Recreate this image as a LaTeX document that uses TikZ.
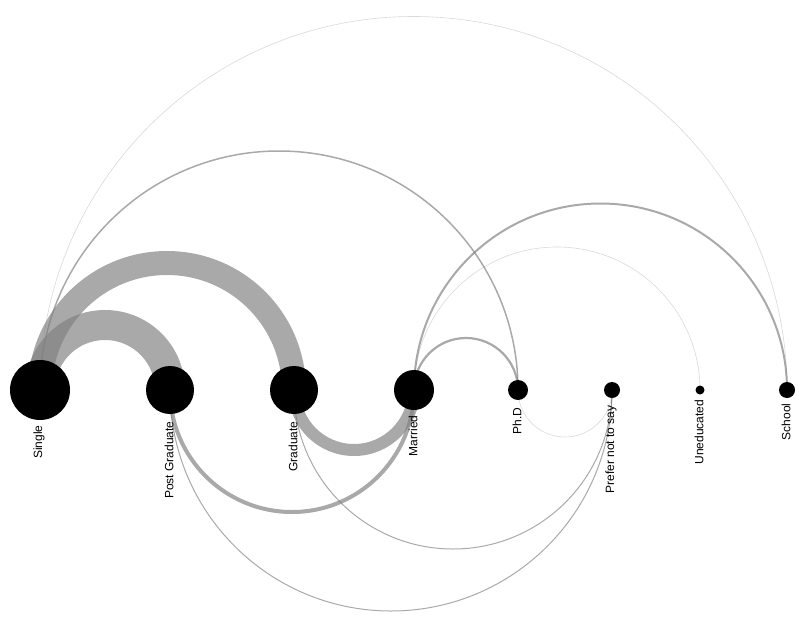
\documentclass[tikz,border=0pt]{standalone}
\usepackage{fontspec}
\setmainfont{Liberation Sans}
\usetikzlibrary{calc,backgrounds}

% half circle from one node to another, above or below the axis
\newcommand{\arcover}[3][]{\draw[link,#1] let \p1=(#2.center), \p2=(#3.center) in (\p1) arc[start angle=180, end angle=0, radius={0.5*(\x2-\x1)}];}
\newcommand{\arcunder}[3][]{\draw[link,#1] let \p1=(#2.center), \p2=(#3.center) in (\p1) arc[start angle=180, end angle=360, radius={0.5*(\x2-\x1)}];}

\begin{document}
\begin{tikzpicture}[x=1pt, y=1pt]
   \tikzstyle{vertex}=[circle, fill=black, draw=none, inner sep=0pt]
   \tikzstyle{tag}=[rotate=90, anchor=east, inner sep=0pt, font=\fontsize{12}{14}\selectfont]
   \tikzstyle{link}=[draw=gray, draw opacity=0.68]
   \tikzstyle{faint}=[draw opacity=0.3]

\useasboundingbox (0,0) rectangle (805,-637);

\node[vertex, minimum size=60] (single) at (40,-390) {};
\node[vertex, minimum size=48] (postgrad) at (170,-390) {};
\node[vertex, minimum size=48] (graduate) at (294,-390) {};
\node[vertex, minimum size=40] (married) at (414,-390) {};
\node[vertex, minimum size=20] (phd) at (518,-390) {};
\node[vertex, minimum size=16] (prefer) at (612,-390) {};
\node[vertex, minimum size=9] (uneducated) at (700,-390) {};
\node[vertex, minimum size=16] (school) at (787,-390) {};

\node[tag] (single-tag) at ($(single.south)+(-1,-5)$) {Single};
\node[tag] (postgrad-tag) at ($(postgrad.south)+(-1,-7)$) {Post Graduate};
\node[tag] (graduate-tag) at ($(graduate.south)+(-1,-7)$) {Graduate};
\node[tag] (married-tag) at ($(married.south)+(-1,-5)$) {Married};
\node[tag] (phd-tag) at ($(phd.south)+(-1,-7)$) {Ph.D};
\node[tag] (prefer-tag) at ($(prefer.south)+(-1,-7)$) {Prefer not to say};
\node[tag] (uneducated-tag) at ($(uneducated.south)+(-1,-5)$) {Uneducated};
\node[tag] (school-tag) at ($(school.south)+(-1,-5)$) {School};

\begin{pgfonlayer}{background}
% links above
\arcover[line width=30]{single}{postgrad}
\arcover[line width=24]{single}{graduate}
\arcover[line width=1.5]{single}{phd}
\arcover[line width=0.6, faint]{single}{school}
\arcover[line width=2.2]{married}{phd}
\arcover[line width=0.6, faint]{married}{uneducated}
\arcover[line width=2]{married}{school}

% links below
\arcunder[line width=12]{graduate}{married}
\arcunder[line width=4]{postgrad}{married}
\arcunder[line width=1]{graduate}{prefer}
\arcunder[line width=1]{postgrad}{prefer}
\arcunder[line width=0.6, faint]{phd}{prefer}
\end{pgfonlayer}

\end{tikzpicture}
\end{document}
